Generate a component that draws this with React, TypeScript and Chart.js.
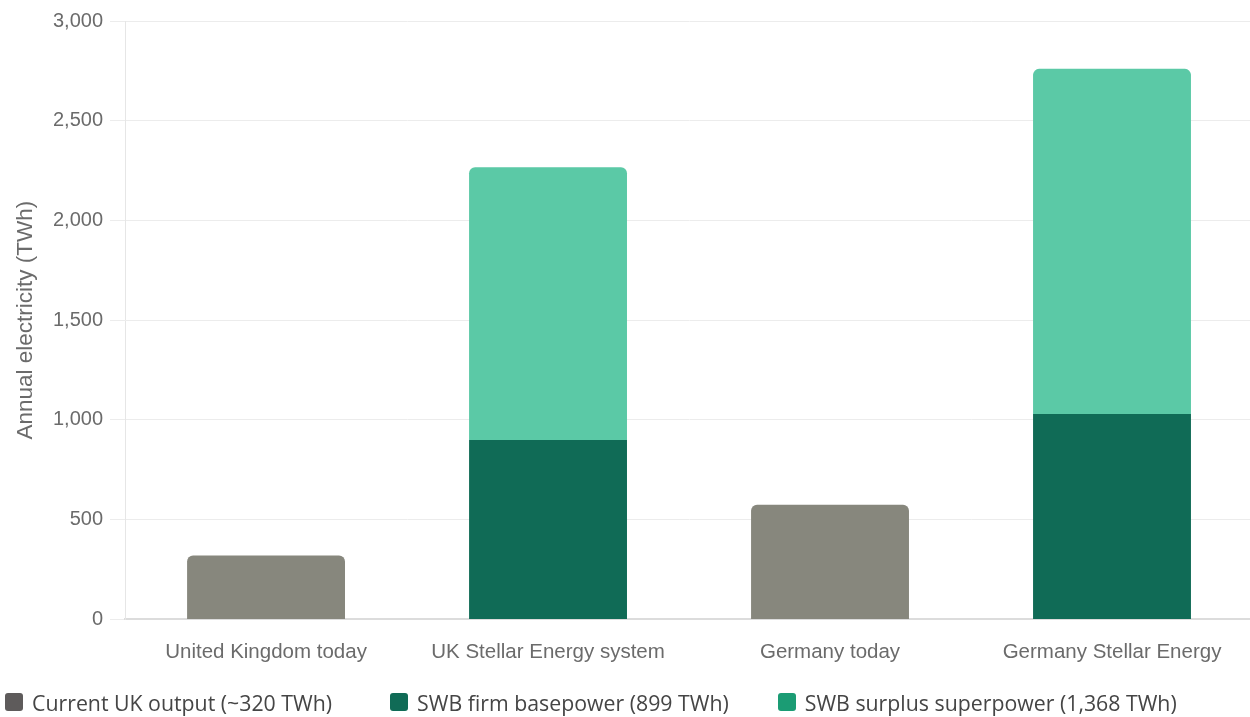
import React, { useEffect, useRef } from "react";
import { Chart, registerables } from "chart.js";

Chart.register(...registerables);

const categories = [
  "United Kingdom today",
  "UK Stellar Energy system",
  "Germany today",
  "Germany Stellar Energy",
];
const currentOutput = [320, null, 575, null];
const firmBasepower = [null, 899, null, 1030];
const surplusSuperpower = [null, 1368, null, 1730];

const seriesLabels = [
  "Current UK output (~320 TWh)",
  "SWB firm basepower (899 TWh)",
  "SWB surplus superpower (1,368 TWh)",
];
const barColors = ["#87877d", "#106b56", "#5bc9a6"];
const legendColors = ["#5e5b5b", "#106b56", "#1b9c74"];

export default function App() {
  const ref = useRef<HTMLCanvasElement | null>(null);

  useEffect(() => {
    document.body.style.margin = "0";
    document.body.style.overflow = "hidden";
    const ctx = ref.current;
    if (!ctx) return;
    const font = "'Liberation Sans', Arial";
    const chart = new Chart(ctx, {
      type: "bar",
      data: {
        labels: categories,
        datasets: [
          {
            label: seriesLabels[0],
            data: currentOutput,
            backgroundColor: barColors[0],
            borderRadius: 6,
            borderSkipped: "bottom",
            barPercentage: 0.7,
            categoryPercentage: 0.8,
          },
          {
            label: seriesLabels[1],
            data: firmBasepower,
            backgroundColor: barColors[1],
            borderRadius: 6,
            borderSkipped: "bottom",
            barPercentage: 0.7,
            categoryPercentage: 0.8,
          },
          {
            label: seriesLabels[2],
            data: surplusSuperpower,
            backgroundColor: barColors[2],
            borderRadius: 6,
            borderSkipped: "bottom",
            barPercentage: 0.7,
            categoryPercentage: 0.8,
          },
        ],
      },
      options: {
        animation: false,
        responsive: true,
        maintainAspectRatio: false,
        layout: { padding: { left: 12, top: 21, right: 0, bottom: 0 } },
        plugins: {
          legend: { display: false },
          tooltip: { enabled: false },
        },
        scales: {
          x: {
            stacked: true,
            grid: { display: false, drawTicks: false },
            border: { display: true, color: "#dcdcdc", width: 2 },
            ticks: {
              color: "#6b6b6b",
              font: { family: font, size: 20.5 },
              padding: 21,
              maxRotation: 0,
              autoSkip: false,
            },
          },
          y: {
            stacked: true,
            min: 0,
            max: 3000,
            grid: { color: "#ececec", tickLength: 15 },
            border: { display: true, color: "#e6e6e6" },
            ticks: {
              stepSize: 500,
              color: "#6b6b6b",
              font: { family: font, size: 20 },
              padding: 7,
            },
            title: {
              display: true,
              text: "Annual electricity (TWh)",
              color: "#6b6b6b",
              font: { family: font, size: 22.5 },
              padding: { top: 0, bottom: 7 },
            },
          },
        },
      },
    });
    return () => chart.destroy();
  }, []);

  const itemGaps = [58, 49, 0];

  return (
    <div style={{ width: 1253, height: 717, position: "relative" }}>
      <div style={{ position: "absolute", left: 0, top: 0, width: 1253, height: 686 }}>
        <canvas ref={ref} />
      </div>
      <div
        style={{
          position: "absolute",
          left: 0,
          top: 683,
          display: "flex",
          alignItems: "center",
          paddingLeft: 5,
          height: 38,
          fontFamily: "'Open Sans', 'Noto Sans', sans-serif",
          fontSize: 21.3,
          color: "#454545",
          whiteSpace: "nowrap",
        }}
      >
        {seriesLabels.map((l, i) => (
          <div
            key={l}
            style={{ display: "flex", alignItems: "center", marginRight: itemGaps[i] }}
          >
            <span
              style={{
                display: "inline-block",
                width: 18,
                height: 18,
                borderRadius: 3,
                background: legendColors[i],
                marginRight: 9,
              }}
            />
            <span>{l}</span>
          </div>
        ))}
      </div>
    </div>
  );
}
